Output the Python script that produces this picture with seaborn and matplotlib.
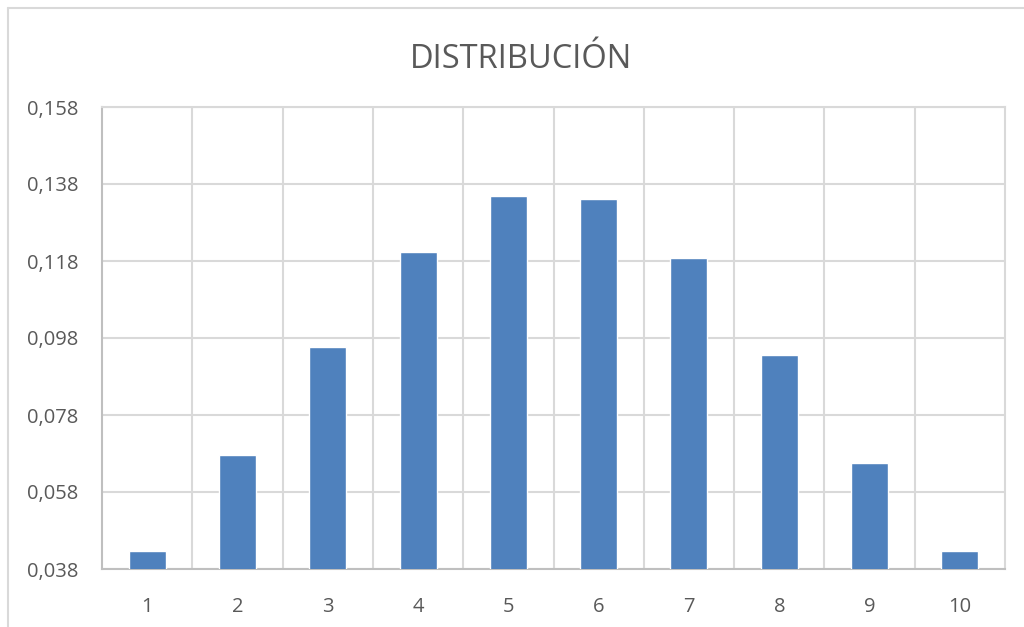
import matplotlib
matplotlib.use("Agg")
import matplotlib.pyplot as plt
from matplotlib.lines import Line2D
import seaborn as sns
import pandas as pd

categories = ["1", "2", "3", "4", "5", "6", "7", "8", "9", "10"]
values = [0.0427, 0.0676, 0.0957, 0.1204, 0.1348, 0.1342, 0.1189, 0.0936, 0.0655, 0.0427]
y_ticks = [0.038, 0.058, 0.078, 0.098, 0.118, 0.138, 0.158]
y_tick_labels = ["0,038", "0,058", "0,078", "0,098", "0,118", "0,138", "0,158"]
title = "DISTRIBUCIÓN"

sns.set_theme(style="white")
plt.rcParams["font.family"] = ["Open Sans", "DejaVu Sans"]

df = pd.DataFrame({"cat": categories, "val": values})

W, H = 1024, 627
fig = plt.figure(figsize=(W / 100, H / 100), dpi=100)
ax = fig.add_axes([102 / W, 1 - 569 / H, (1005 - 102) / W, (569 - 107) / H])

sns.barplot(data=df, x="cat", y="val", color="#4f81bd", width=0.41,
            saturation=1, ax=ax, zorder=3)

ax.set_ylim(0.038, 0.158)
ax.set_xlim(-0.5, len(categories) - 0.5)
ax.set_yticks(y_ticks)
ax.set_yticklabels(y_tick_labels)
ax.set_xlabel("")
ax.set_ylabel("")

grid_c = "#d9d9d9"
ax.yaxis.grid(True, color=grid_c, linewidth=1.5, zorder=0)
ax.set_xticks([i + 0.5 for i in range(len(categories) - 1)], minor=True)
ax.xaxis.grid(True, which="minor", color=grid_c, linewidth=1.5, zorder=0)
ax.xaxis.grid(False, which="major")
ax.set_axisbelow(True)

for side in ["top", "right"]:
    ax.spines[side].set_color(grid_c)
    ax.spines[side].set_linewidth(1.5)
for side in ["left", "bottom"]:
    ax.spines[side].set_color("#bfbfbf")
    ax.spines[side].set_linewidth(1.5)

ax.tick_params(axis="both", which="both", length=0, labelsize=14.5,
               labelcolor="#595959")
ax.tick_params(axis="y", pad=17)
ax.tick_params(axis="x", pad=20)

fig.text(521 / W, 1 - 60 / H, title, ha="center", va="center",
         fontsize=23.5, color="#595959")

# outer chart frame (left and top edges)
fig.add_artist(Line2D([7.5 / W, 7.5 / W], [0, 1 - 7.5 / H], transform=fig.transFigure,
                      color=grid_c, linewidth=1.5))
fig.add_artist(Line2D([7.5 / W, 1], [1 - 7.5 / H, 1 - 7.5 / H], transform=fig.transFigure,
                      color=grid_c, linewidth=1.5))

fig.savefig("out.png", dpi=100, facecolor="white")
